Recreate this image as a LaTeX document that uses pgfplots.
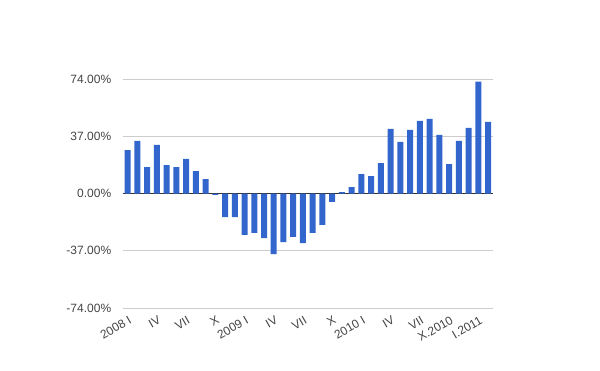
\documentclass[border=0pt]{standalone}
\usepackage{pgfplots}
\pgfplotsset{compat=1.18}
\usepackage{fontspec}
\setmainfont{Liberation Sans}
\definecolor{barblue}{HTML}{3366CC}
\definecolor{gridgray}{HTML}{CCCCCC}
\definecolor{labgray}{HTML}{444444}
\begin{document}
\begin{tikzpicture}
\useasboundingbox (0,0) rectangle (600bp,371bp);
\begin{axis}[
  at={(122.7bp,63bp)}, anchor=south west,
  scale only axis,
  width=370.3bp, height=229bp,
  xmin=0.5, xmax=38.5,
  ymin=-74, ymax=74,
  ybar, bar width=6bp,
  axis line style={draw=none},
  tick style={draw=none},
  ymajorgrids, grid style={gridgray, line width=0.8pt},
  ytick={-74,-37,0,37,74},
  yticklabels={-74.00\%,-37.00\%,0.00\%,37.00\%,74.00\%},
  extra y ticks={0}, extra y tick labels={},
  extra y tick style={grid style={black!80, line width=1pt}},
  xtick={1,4,7,10,13,16,19,22,25,28,31,34,37},
  xticklabels={2008 I,IV,VII,X,2009 I,IV,VII,X,2010 I,IV,VII,X.2010,I.2011},
  ticklabel style={font=\fontsize{12bp}{14bp}\selectfont, text=labgray},
  yticklabel style={xshift=-8bp},
  xticklabel style={rotate=30, anchor=north east, inner sep=1bp, yshift=-2bp},
  axis on top=false,
  clip=false,
]
\addplot[fill=barblue, draw=none] coordinates {
(1,28.1) (2,34.0) (3,17.1) (4,31.4) (5,18.4) (6,17.1) (7,22.3) (8,14.5)
(9,9.3) (10,-0.9) (11,-15.2) (12,-15.2) (13,-26.8) (14,-25.5) (15,-28.8)
(16,-39.2) (17,-31.4) (18,-28.1) (19,-32.0) (20,-25.5) (21,-20.3) (22,-5.4)
(23,0.9) (24,4.1) (25,12.6) (26,11.3) (27,19.7) (28,41.8) (29,33.3)
(30,41.1) (31,47.0) (32,48.3) (33,37.9) (34,19.0) (35,34.0) (36,42.4)
(37,72.3) (38,46.3)
};
\end{axis}
\end{tikzpicture}
\end{document}
